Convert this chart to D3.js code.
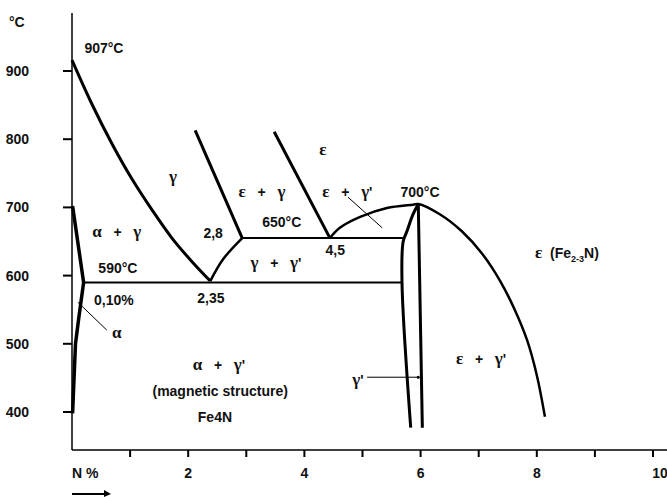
<!DOCTYPE html>
<html>
<head>
<meta charset="utf-8">
<script src="https://cdn.jsdelivr.net/npm/d3@7"></script>
<style>
  body { margin: 0; background: #fff; }
  text { font-family: "Liberation Sans", Arial, sans-serif; font-weight: bold; font-size: 14px; fill: #111; }
  .gr { font-family: "Liberation Serif", "DejaVu Serif", serif; font-weight: bold; font-size: 17px; }
</style>
</head>
<body>
<script>
const W = 667, H = 497;

// temperature ticks (°C) and composition ticks (N %)
const tempTicks = [400, 500, 600, 700, 800, 900];
const nTicks = [1, 2, 3, 4, 5, 6, 7, 8, 9, 10];
const nLabels = [2, 4, 6, 8, 10];

// phase boundaries, [N %, °C]
const gammaLine = [[0.0, 916], [0.34, 852], [0.69, 793], [1.03, 742], [1.38, 696], [1.72, 655], [2.07, 620], [2.38, 592]];
const alphaLine = [[0.01, 702], [0.2, 590], [0.12, 540], [0.06, 500], [0.01, 398]];
const gammaGp = [[2.38, 592], [2.6, 624], [2.93, 655]];
const epsGammaLeft = [[2.12, 813], [2.93, 655]];
const epsGammaRight = [[3.48, 811], [4.44, 655]];
const epsDome = [[4.44, 655], [4.61, 670], [4.96, 686], [5.42, 699], [5.87, 704], [5.96, 705], [6.33, 690], [6.71, 665], [7.06, 632], [7.37, 592], [7.62, 550], [7.83, 506], [8.00, 454], [8.14, 393]];
const gpLeft = [[5.96, 705], [5.86, 688], [5.77, 666], [5.70, 650], [5.68, 590], [5.83, 377]];
const gpRight = [[5.96, 705], [6.03, 377]];
const iso650 = [[2.93, 655], [5.70, 655]];
const iso590 = [[0.2, 590], [5.68, 590]];

// leader lines
const alphaPtr = [[0.10, 561], [0.60, 520]];
const epsPtr = [[4.75, 715], [5.34, 670]];
const gpPtr = [[5.08, 451], [5.96, 451]];

// labels: text, N %, °C
const labels = [
  ['907°C', 0.55, 934],
  ['α + γ', 0.77, 664],
  ['γ', 1.74, 745],
  ['2,8', 2.43, 662],
  ['590°C', 0.79, 611],
  ['0,10%', 0.72, 564],
  ['2,35', 2.39, 567],
  ['α', 0.77, 516],
  ['ε', 4.32, 784],
  ['ε + γ', 3.27, 723],
  ["ε + γ'", 4.74, 723],
  ['650°C', 3.61, 679],
  ['4,5', 4.53, 637],
  ["γ + γ'", 3.51, 618],
  ['700°C', 5.99, 723],
  ["ε + γ'", 7.04, 478],
  ["α + γ'", 2.53, 469],
  ['(magnetic structure)', 2.55, 431],
  ['Fe4N', 2.46, 393],
  ["γ'", 4.92, 447]
];

const x = d3.scaleLinear().domain([0, 10]).range([72, 653]);
const y = d3.scaleLinear().domain([400, 900]).range([412, 71]);

const svg = d3.select('body').append('svg')
  .attr('width', W).attr('height', H);

const line = d3.line()
  .x(d => x(d[0]))
  .y(d => y(d[1]));
const curve = d3.line()
  .x(d => x(d[0]))
  .y(d => y(d[1]))
  .curve(d3.curveCatmullRom);

// axes
svg.append('line')
  .attr('x1', x(0)).attr('x2', x(0))
  .attr('y1', 13).attr('y2', 450)
  .attr('stroke', '#000').attr('stroke-width', 1.5);
svg.append('line')
  .attr('x1', x(0)).attr('x2', W)
  .attr('y1', 450).attr('y2', 450)
  .attr('stroke', '#000').attr('stroke-width', 1.5);

svg.selectAll('.ytick').data(tempTicks).enter().append('line')
  .attr('x1', 63).attr('x2', x(0))
  .attr('y1', d => y(d)).attr('y2', d => y(d))
  .attr('stroke', '#000').attr('stroke-width', 2);
svg.selectAll('.ylab').data(tempTicks).enter().append('text')
  .attr('x', 29).attr('y', d => y(d)).attr('dy', '0.36em')
  .attr('text-anchor', 'end')
  .text(d => d);

svg.selectAll('.xtick').data(nTicks).enter().append('line')
  .attr('x1', d => x(d)).attr('x2', d => x(d))
  .attr('y1', 450).attr('y2', 457)
  .attr('stroke', '#000').attr('stroke-width', 2);
svg.selectAll('.xlab').data(nLabels).enter().append('text')
  .attr('x', d => x(d) + (d === 10 ? 7 : 0)).attr('y', 478)
  .attr('text-anchor', 'middle')
  .text(d => d);

svg.append('text').attr('x', 9).attr('y', 27).text('°C');
svg.append('text').attr('x', 72).attr('y', 478).text('N %');

// arrow under N %
svg.append('line')
  .attr('x1', 72).attr('x2', 106).attr('y1', 494).attr('y2', 494)
  .attr('stroke', '#000').attr('stroke-width', 2);
svg.append('path')
  .attr('d', 'M104,490 L111,494 L104,497 Z')
  .attr('fill', '#000');

// phase boundaries
const bounds = [
  [gammaLine, curve, 3],
  [alphaLine, line, 3.5],
  [gammaGp, curve, 2.5],
  [epsGammaLeft, line, 3],
  [epsGammaRight, line, 3],
  [epsDome, curve, 2.5],
  [gpLeft, curve, 3],
  [gpRight, line, 3],
  [iso650, line, 2],
  [iso590, line, 2]
];
bounds.forEach(([pts, gen, w]) => {
  svg.append('path')
    .attr('d', gen(pts))
    .attr('fill', 'none')
    .attr('stroke', '#000')
    .attr('stroke-width', w)
    .attr('stroke-linejoin', 'round');
});

[alphaPtr, epsPtr, gpPtr].forEach(pts => {
  svg.append('path')
    .attr('d', line(pts))
    .attr('fill', 'none')
    .attr('stroke', '#000')
    .attr('stroke-width', 1);
});
svg.append('circle')
  .attr('cx', x(gpPtr[1][0])).attr('cy', y(gpPtr[1][1]))
  .attr('r', 1.5).attr('fill', '#000');

// labels, greek letters set in serif
const greek = /[αγε]/;
labels.forEach(([t, n, temp]) => {
  const el = svg.append('text')
    .attr('x', x(n)).attr('y', y(temp)).attr('dy', '0.36em')
    .attr('text-anchor', 'middle')
    .attr('xml:space', 'preserve');
  t.split(/([αγε])/).filter(s => s.length).forEach(s => {
    el.append('tspan').attr('class', greek.test(s) ? 'gr' : null)
      .text(s.replace(' + ', '   +   '));
  });
});

// ε (Fe2-3N)
const fe = svg.append('text')
  .attr('x', x(7.97)).attr('y', y(633)).attr('dy', '0.36em')
  .attr('xml:space', 'preserve');
fe.append('tspan').attr('class', 'gr').text('ε');
fe.append('tspan').text('  (Fe');
fe.append('tspan').attr('font-size', 9).attr('dy', 4).text('2-3');
fe.append('tspan').attr('dy', -4).text('N)');
</script>
</body>
</html>
